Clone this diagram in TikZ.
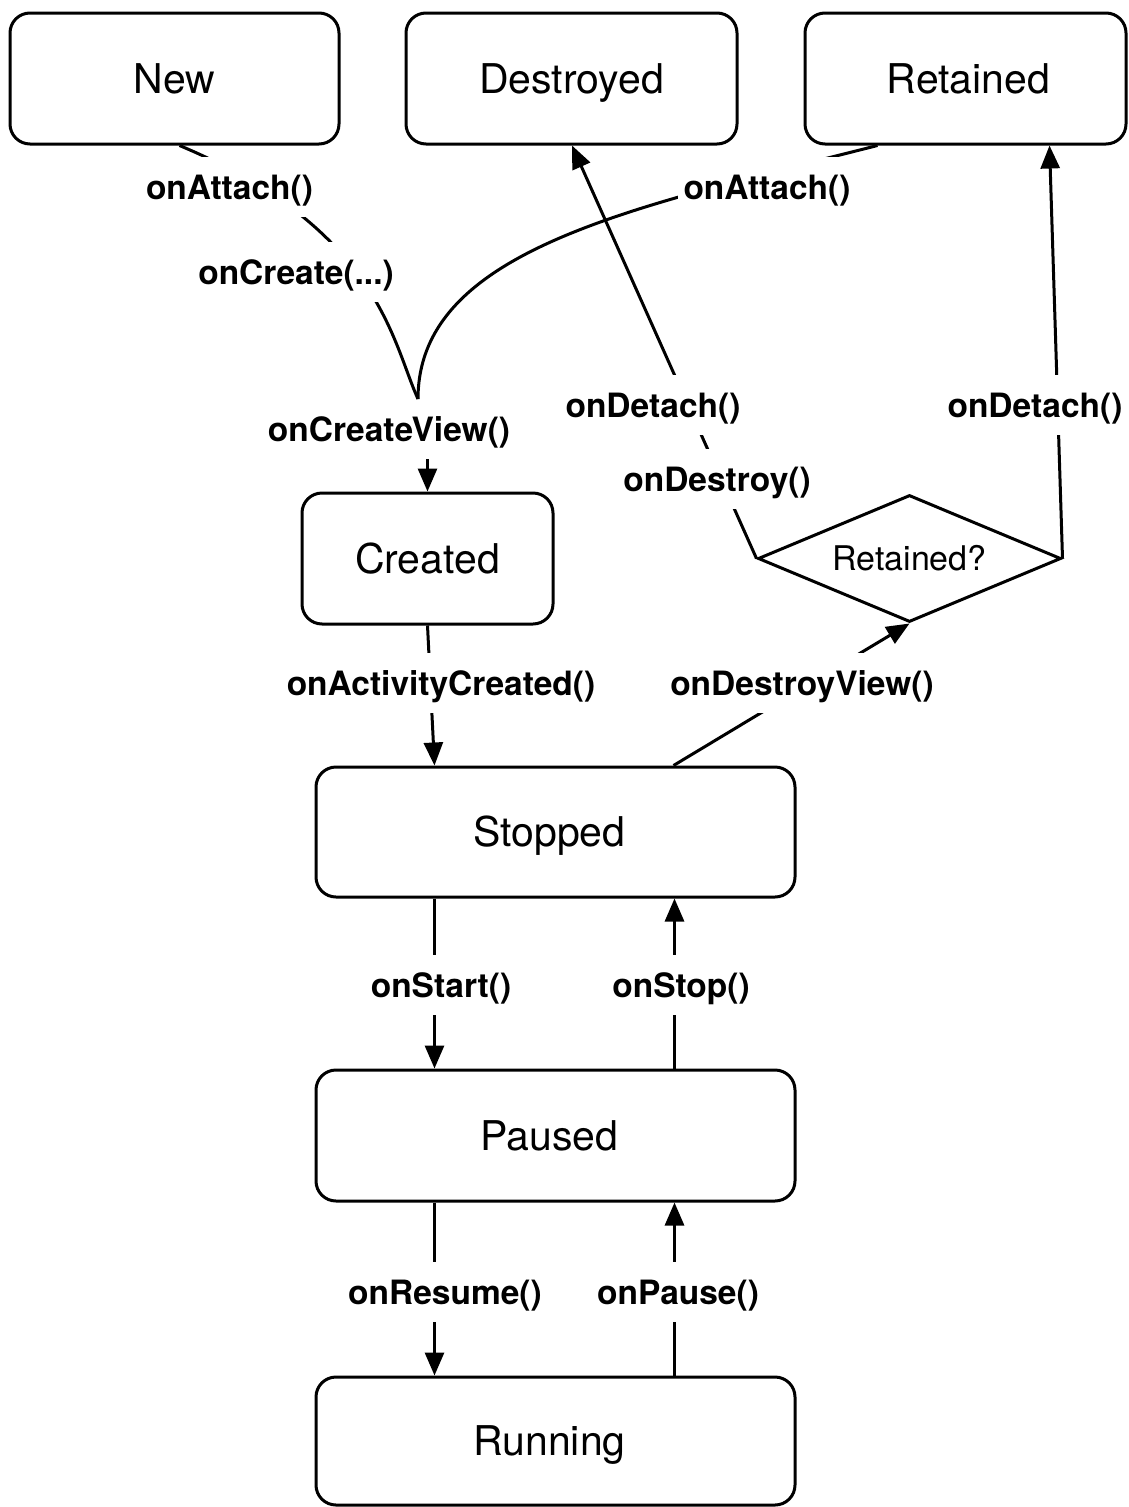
\documentclass[tikz,border=0pt]{standalone}
\usepackage{fontspec}
\setmainfont{TeX Gyre Heros}
\usetikzlibrary{arrows.meta,shapes.geometric,calc}
\begin{document}
\begin{tikzpicture}[x=1pt,y=-1pt,
  statebox/.style={draw,line width=3pt,rounded corners=20pt,minimum height=131pt,inner sep=0pt,text height=29.5pt,text depth=0pt,font=\fontsize{41}{49}\selectfont},
  lbl/.style={fill=white,inner xsep=6pt,inner ysep=0pt,minimum height=60pt,text height=24pt,text depth=0pt,font=\fontsize{33.5}{40}\selectfont\bfseries},
  conn/.style={line width=3pt},
  arr/.style={conn,-{Triangle[length=23pt,width=19pt]}},
]
\useasboundingbox (0,0) rectangle (1128,1507);

% states
\node[statebox,minimum width=329pt] (new) at (174.5,78.5) {New};
\node[statebox,minimum width=331pt] (destroyed) at (571.5,78.5) {Destroyed};
\node[statebox,minimum width=321pt] (retained) at (965.5,78.5) {\hspace*{6pt}Retained};
\node[statebox,minimum width=251pt] (created) at (427.5,558.5) {Created};
\node[statebox,minimum width=479pt,minimum height=130pt] (stopped) at (555.5,832) {\hspace*{-12pt}Stopped};
\node[statebox,minimum width=479pt] (paused) at (555.5,1135.5) {\hspace*{-12pt}Paused};
\node[statebox,minimum width=479pt,minimum height=128pt] (running) at (555.5,1441) {\hspace*{-12pt}Running};
\node[draw,conn,diamond,minimum width=303pt,minimum height=127pt,inner sep=0pt,aspect=2.4,font=\fontsize{34}{40}\selectfont] (dia) at (909.5,558.5) {Retained?};

% join label
\node[lbl] (lcv) at (389,429) {onCreateView()};
\coordinate (j) at (418,399);

% connectors
\draw[conn] ($(new.south)+(5,0)$) .. controls (379,229) and (392,342) .. (j);
\draw[conn] ($(retained.south)+(-88,0)$) .. controls (636,207) and (418,249) .. (j);
\draw[arr] (lcv.south -| created.north) -- (created.north);
\draw[arr] (created.south) -- ($(stopped.north west)+(120,0)$);
\draw[arr] ($(stopped.north west)+(359,0)$) -- (dia.south);
\draw[arr] (dia.west) -- ($(destroyed.south)+(0.5,0)$);
\draw[arr] (dia.east) -- ($(retained.south)+(84,0)$);
\draw[arr] ($(stopped.south west)+(120,0)$) -- ($(paused.north west)+(120,0)$);
\draw[arr] ($(paused.north west)+(360,0)$) -- ($(stopped.south west)+(360,0)$);
\draw[arr] ($(paused.south west)+(120,0)$) -- ($(running.north west)+(120,0)$);
\draw[arr] ($(running.north west)+(360,0)$) -- ($(paused.south west)+(360,0)$);

% labels
\node[lbl] (la1) at (229.5,187) {onAttach()};
\node[lbl] (lcr) at (296,272) {onCreate(...)};
\node[lbl] (la2) at (767,187) {onAttach()};
\node[lbl] (ld1) at (653,405) {onDetach()};
\node[lbl] (lds) at (717,479) {onDestroy()};
\node[lbl] (ld2) at (1035,405) {onDetach()};
\node[lbl] (lac) at (441,683) {onActivityCreated()};
\node[lbl] (ldv) at (802,683) {onDestroyView()};
\node[lbl] (lst) at (441,985) {onStart()};
\node[lbl] (lsp) at (681,985) {onStop()};
\node[lbl] (lre) at (445,1292) {onResume()};
\node[lbl] (lpa) at (678,1292) {onPause()};
\end{tikzpicture}
\end{document}
